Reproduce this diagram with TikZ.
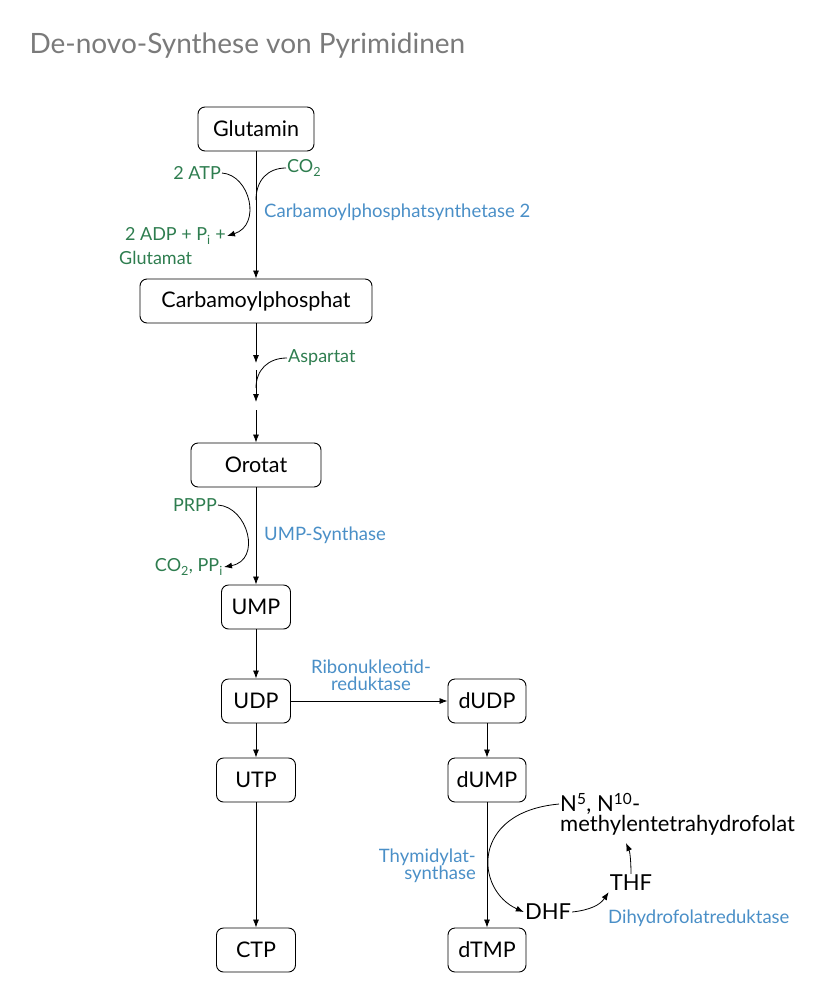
\documentclass[tikz,border=0pt]{standalone}
\usepackage{fontspec}
\setmainfont{Lato}
\usetikzlibrary{arrows.meta}
\definecolor{grn}{HTML}{2E7D4F}
\definecolor{blu}{HTML}{4A8FC7}
\definecolor{ttl}{HTML}{7A7A7A}
\begin{document}
\begin{tikzpicture}[x=1pt,y=-1pt,
 box/.style={draw,rounded corners=7pt,line width=0.9pt,minimum height=44pt,font=\fontsize{21.5}{24}\selectfont,inner sep=0pt},
 g/.style={text=grn,font=\fontsize{18}{21}\selectfont,inner sep=1pt},
 b/.style={text=blu,font=\fontsize{18.5}{21}\selectfont,inner sep=1pt},
 k/.style={font=\fontsize{22}{24}\selectfont,inner sep=1pt},
 ar/.style={-{Latex[length=8pt,width=6pt]},line width=0.8pt},
 ln/.style={line width=0.8pt}]
\useasboundingbox (0,0) rectangle (830,999);
\node[text=ttl,font=\fontsize{28}{32}\selectfont,anchor=west] (title) at (26,46) {De-novo-Synthese von Pyrimidinen};
\node[box,minimum width=116pt] (glu) at (256,129) {Glutamin};
\node[box,minimum width=232pt] (cp) at (256,301) {Carbamoylphosphat};
\node[box,minimum width=130pt] (oro) at (256,465) {Orotat};
\node[box,minimum width=69pt] (ump) at (256,607) {UMP};
\node[box,minimum width=69pt] (udp) at (256,701) {UDP};
\node[box,minimum width=79pt] (utp) at (256,780) {UTP};
\node[box,minimum width=79pt] (ctp) at (256,950) {CTP};
\node[box,minimum width=78pt] (dudp) at (487,701) {dUDP};
\node[box,minimum width=78pt] (dump) at (487,780) {dUMP};
\node[box,minimum width=78pt] (dtmp) at (487,950) {dTMP};
% glutamin -> cp
\draw[ar] (glu) -- (cp);
\node[g,anchor=east] (atp) at (222,173) {2 ATP};
\node[g,anchor=west] (co2) at (286,168) {CO\textsubscript{2}};
\node[g,anchor=east,align=left] (adp) at (227,236) {2 ADP + P\textsubscript{i} +};
\node[g,anchor=west] (glm) at (118,258) {Glutamat};
\draw[ar] (atp.east) .. controls (250,175) and (262,225) .. (adp.east);
\draw[ln] (co2.west) .. controls (268,168) and (256,180) .. (256,200);
\node[b,anchor=west] (cps) at (263,212) {Carbamoylphosphatsynthetase 2};
% cp -> orotat
\coordinate (m1) at (256,363);
\coordinate (m2) at (256,370);
\coordinate (m3) at (256,402);
\coordinate (m4) at (256,410);
\draw[ar] (cp) -- (m1);
\draw[ar] (m2) -- (m3);
\draw[ar] (m4) -- (oro);
\node[g,anchor=west] (asp) at (287,358) {Aspartat};
\draw[ln] (asp.west) .. controls (268,358) and (256,370) .. (256,388);
% orotat -> ump
\draw[ar] (oro) -- (ump);
\node[g,anchor=east] (prpp) at (218,505) {PRPP};
\node[g,anchor=east] (pp) at (224,567) {CO\textsubscript{2}, PP\textsubscript{i}};
\draw[ar] (prpp.east) .. controls (248,507) and (262,560) .. (pp.east);
\node[b,anchor=west] (umps) at (263,535) {UMP-Synthase};
% rest
\draw[ar] (ump) -- (udp);
\draw[ar] (udp) -- (utp);
\draw[ar] (utp) -- (ctp);
\draw[ar] (udp) -- (dudp);
\node[b,align=center] (rnr) at (371,675) {Ribonukleotid-\\[-4pt]reduktase};
\draw[ar] (dudp) -- (dump);
\draw[ar] (dump) -- (dtmp);
\node[b,align=right,anchor=east] (ts) at (477,866) {Thymidylat-\\[-4pt]synthase};
\node[k,anchor=north west] (mthf1) at (559,792) {N\textsuperscript{5}, N\textsuperscript{10}-};
\node[k,anchor=north west] (mthf) at (559,814) {methylentetrahydrofolat};
\node[k] (dhf) at (548,912) {DHF};
\node[k] (thf) at (631,883) {THF};
\node[b,anchor=west] (dhfr) at (607,918) {Dihydrofolatreduktase};
\draw[ar] (mthf1.west) .. controls (470,812) and (475,890) .. (dhf.west);
\draw[ar] (dhf.east) .. controls (590,910) and (600,905) .. (thf.south west);
\draw[ar] (thf.north) .. controls (631,862) and (630,852) .. (626,843);
\end{tikzpicture}
\end{document}
